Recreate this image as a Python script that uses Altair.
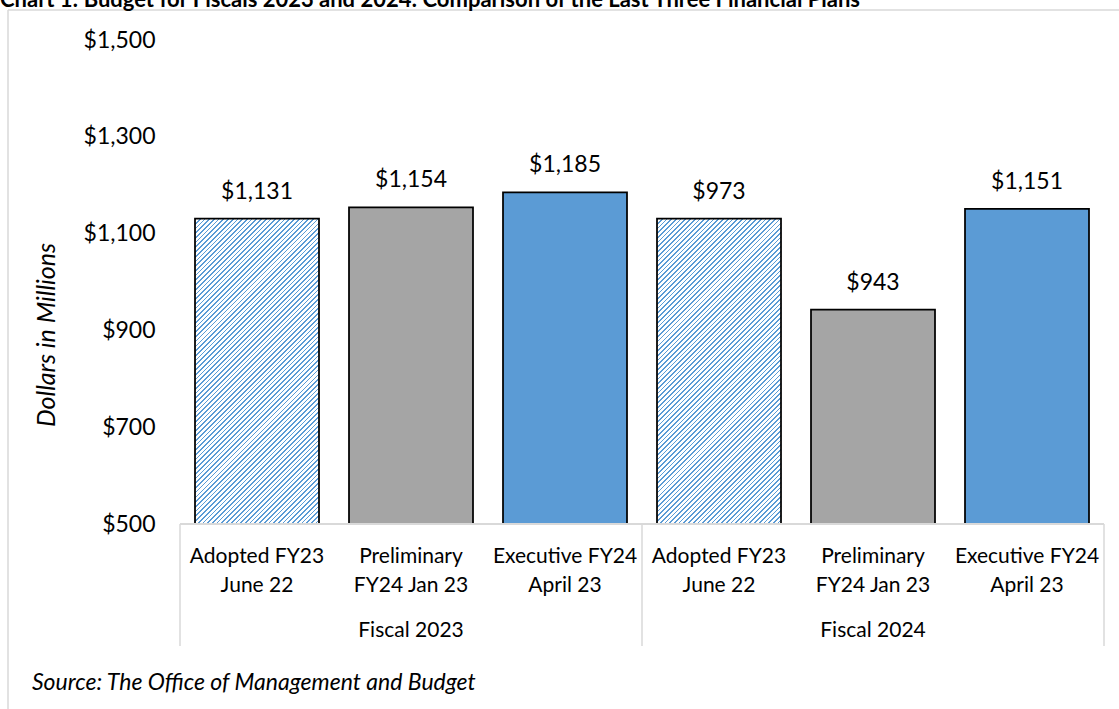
import altair as alt
import pandas as pd

# ---------------- data ----------------
title_text = "Chart 1: Budget for Fiscals 2023 and 2024: Comparison of the Last Three Financial Plans"
y_title = "Dollars in Millions"
source_text = "Source: The Office of Management and Budget"

fiscal_years = ["Fiscal 2023", "Fiscal 2023", "Fiscal 2023",
                "Fiscal 2024", "Fiscal 2024", "Fiscal 2024"]
plan_kind = ["Adopted", "Preliminary", "Executive",
             "Adopted", "Preliminary", "Executive"]
plan_labels = ["Adopted FY23\nJune 22", "Preliminary\nFY24 Jan 23", "Executive FY24\nApril 23",
               "Adopted FY23\nJune 22", "Preliminary\nFY24 Jan 23", "Executive FY24\nApril 23"]
bar_values = [1131, 1154, 1185, 1131, 943, 1151]          # bar heights as drawn
value_labels = ["$1,131", "$1,154", "$1,185", "$973", "$943", "$1,151"]
y_ticks = [500, 700, 900, 1100, 1300, 1500]
y_domain = [500, 1500]

df = pd.DataFrame({
    "idx": list(range(len(bar_values))),
    "fiscal": fiscal_years,
    "kind": plan_kind,
    "plan": plan_labels,
    "value": bar_values,
    "label": value_labels,
})
groups = (df.groupby("fiscal", sort=False)["idx"]
          .agg(lambda s: s.iloc[len(s) // 2]).reset_index())
group_sizes = df.groupby("fiscal", sort=False).size().tolist()

# ---------------- layout / style ----------------
W, H = 924, 484
PL, PT = 180, 40
FONT = "Lato"
BLUE = "#5B9BD5"
GRAY = "#A5A5A5"
LINE = "#D9D9D9"
P_IN, P_OUT = 30 / 154, 15 / 154
step = W / len(bar_values)
band_w = step * (1 - P_IN)

# diagonal hatch approximated with a striped linear gradient
hatch_h = (bar_values[0] - y_domain[0]) / (y_domain[1] - y_domain[0]) * H
c = (band_w + hatch_h) * band_w * hatch_h / (band_w ** 2 + hatch_h ** 2)
n_str = round((band_w + hatch_h) / 4.7)
stops = []
for i in range(n_str):
    s, m, e = i / n_str, (i + 0.36) / n_str, (i + 1) / n_str
    stops += [alt.GradientStop(offset=s, color=BLUE), alt.GradientStop(offset=m, color=BLUE),
              alt.GradientStop(offset=m, color="white"), alt.GradientStop(offset=e, color="white")]
hatch = alt.LinearGradient(gradient="linear", stops=stops, x1=0, y1=0,
                           x2=c / hatch_h, y2=c / band_w)

xenc = alt.X("idx:O", scale=alt.Scale(paddingInner=P_IN, paddingOuter=P_OUT), axis=None)
yenc = alt.Y("value:Q",
             scale=alt.Scale(domain=y_domain, zero=False, nice=False),
             axis=alt.Axis(values=y_ticks, format="$,.0f", labelFont=FONT, labelFontSize=23,
                           labelColor="black", labelPadding=25, ticks=False, domain=False,
                           grid=False, title=""))

base = alt.Chart(df)

def bars(kind, fill):
    return base.transform_filter(alt.datum.kind == kind).mark_bar(
        fill=fill, stroke="black", strokeWidth=1.75
    ).encode(x=xenc, y=yenc, y2=alt.datum(y_domain[0]))

bar_layers = [bars("Adopted", hatch), bars("Preliminary", GRAY), bars("Executive", BLUE)]

value_text = base.mark_text(font=FONT, fontSize=23, color="black", baseline="alphabetic",
                            align="center", dy=-20).encode(x=xenc, y=yenc, text="label:N")

plan_text = base.mark_text(font=FONT, fontSize=21, color="black", baseline="alphabetic",
                           align="center", lineBreak="\n", lineHeight=29).encode(
    x=xenc, y=alt.value(563 - PT), text="plan:N")

group_text = alt.Chart(groups).mark_text(font=FONT, fontSize=21, color="black",
                                         baseline="alphabetic", align="center").encode(
    x=xenc, y=alt.value(637 - PT), text="fiscal:N")

one = pd.DataFrame({"k": [0]})

# axis structure lines
baseline = alt.Chart(one).mark_rule(color=LINE, strokeWidth=2).encode(
    x=alt.value(0), x2=alt.value(W), y=alt.value(H))
sep_pos = [0]
for g in group_sizes:
    sep_pos.append(sep_pos[-1] + g * step)
separators = [
    alt.Chart(one).mark_rule(color=LINE, strokeWidth=1.5).encode(
        x=alt.value(p), y=alt.value(H), y2=alt.value(606))
    for p in sep_pos
]

# outer frame (top and left edges visible)
frame_top = alt.Chart(one).mark_rule(color=LINE, strokeWidth=1.5).encode(
    x=alt.value(8 - PL), x2=alt.value(1130 - PL), y=alt.value(10 - PT))
frame_left = alt.Chart(one).mark_rule(color=LINE, strokeWidth=1.5).encode(
    x=alt.value(8 - PL), y=alt.value(10 - PT), y2=alt.value(720 - PT))

ytitle = alt.Chart(pd.DataFrame({"t": [y_title]})).mark_text(
    font=FONT, fontSize=25, fontStyle="italic", color="black", angle=270,
    align="center", baseline="middle").encode(
    x=alt.value(47 - PL), y=alt.value(335 - PT), text="t:N")

source = alt.Chart(pd.DataFrame({"t": [source_text]})).mark_text(
    font=FONT, fontSize=23, fontStyle="italic", color="black", align="left",
    baseline="alphabetic").encode(x=alt.value(32 - PL), y=alt.value(690 - PT), text="t:N")

title = alt.Chart(pd.DataFrame({"t": [title_text]})).mark_text(
    font=FONT, fontSize=22, fontWeight="bold", color="black", align="left",
    baseline="alphabetic").encode(x=alt.value(0 - PL), y=alt.value(7 - PT), text="t:N")

chart = alt.layer(
    frame_top, frame_left, title, *bar_layers, baseline, *separators,
    value_text, plan_text, group_text, ytitle, source
).properties(
    width=W, height=H,
    autosize=alt.AutoSizeParams(type="none"),
    padding={"left": PL, "top": PT, "right": 1119 - PL - W, "bottom": 709 - PT - H},
    background="white",
).configure_view(stroke="transparent")

chart.save("out.html", embed_options={"renderer": "svg", "actions": False})
